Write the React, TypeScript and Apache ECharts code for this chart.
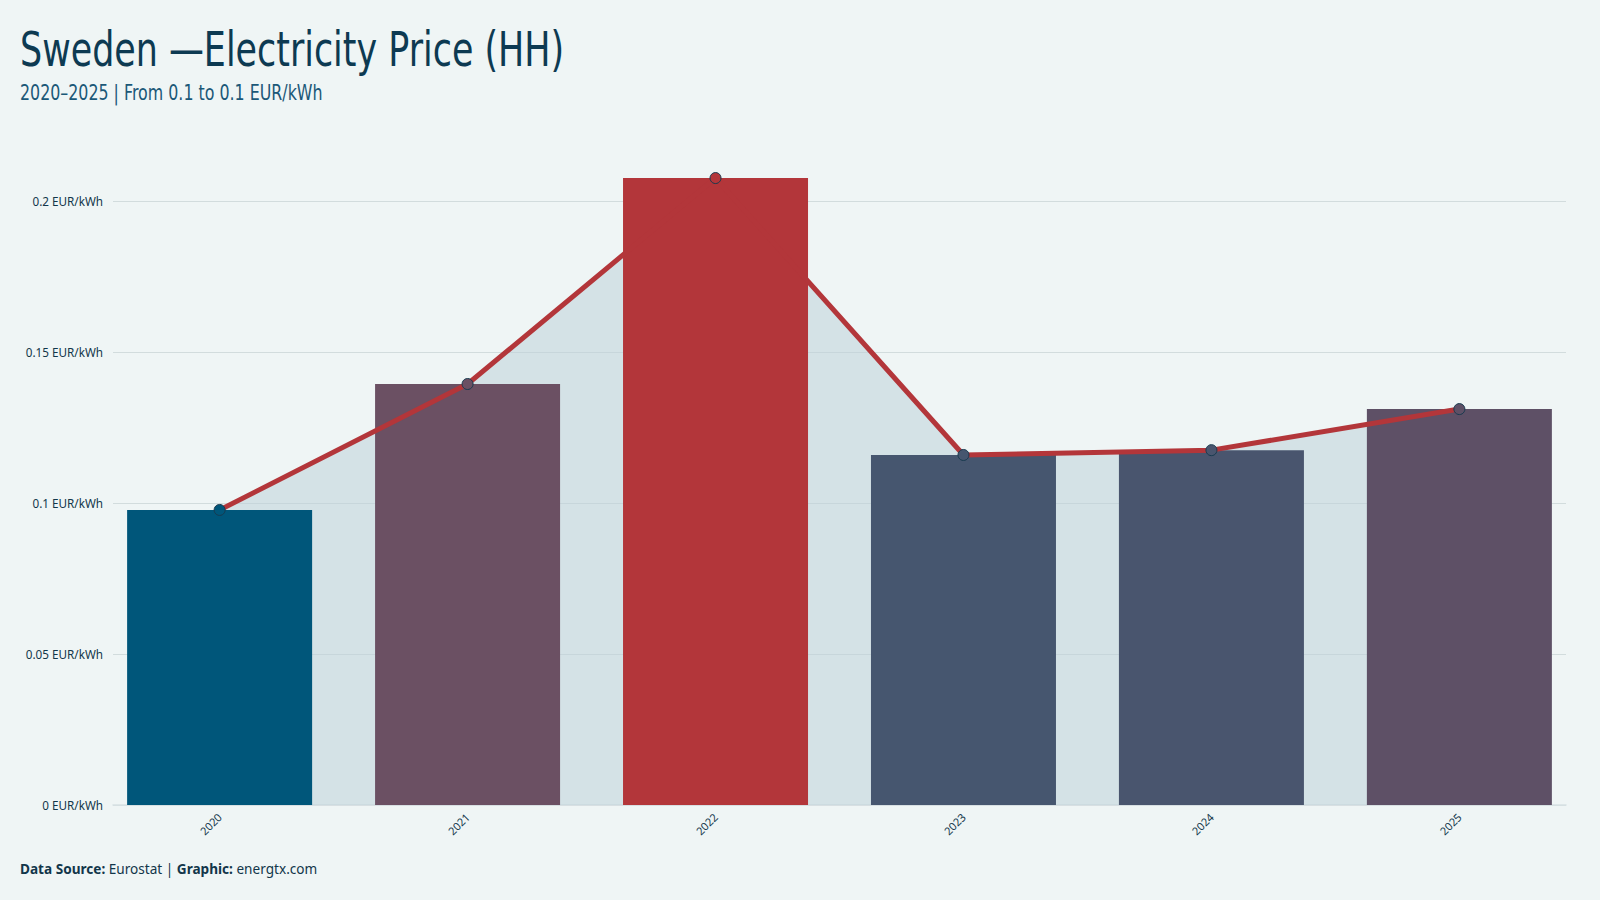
import React, { useEffect, useRef } from "react";
import * as echarts from "echarts";

const years = ["2020", "2021", "2022", "2023", "2024", "2025"];
const prices = [0.0977, 0.1394, 0.2076, 0.1159, 0.1175, 0.1311];
const barColors = ["#00567a", "#6b5063", "#b3363a", "#46566f", "#49556e", "#5e5066"];
const yTickValues = [0, 0.05, 0.1, 0.15, 0.2];
const unit = "EUR/kWh";
const titleText = "Sweden —Electricity Price (HH)";
const subtitleText = "2020–2025 | From 0.1 to 0.1 EUR/kWh";

export default function App() {
  const ref = useRef<HTMLDivElement>(null);
  useEffect(() => {
    if (!ref.current) return;
    const chart = echarts.init(ref.current, null, { renderer: "svg" });
    const xy = prices.map((v, i) => [i, v]);
    chart.setOption({
      animation: false,
      backgroundColor: "#eff5f5",
      grid: { left: 113, right: 34, top: 125.5, bottom: 95, containLabel: false },
      xAxis: {
        type: "value",
        min: -0.43,
        max: 5.43,
        splitLine: { show: false },
        axisTick: { show: false },
        axisLine: { show: true, lineStyle: { color: "#d8e1e3", width: 1.5 } },
        axisLabel: {
          customValues: years.map((_, i) => i),
          formatter: (v: number) => years[Math.round(v)] ?? "",
          rotate: 45,
          margin: 10,
          fontSize: 11,
          color: "#12364a",
          fontFamily: "'Noto Sans', sans-serif",
        },
      },
      yAxis: {
        type: "value",
        min: 0,
        max: 0.225,
        interval: 0.05,
        axisLine: { show: false },
        axisTick: { show: false },
        splitLine: { show: true, showMaxLine: false, lineStyle: { color: "#d2dcdd", width: 1 } },
        axisLabel: {
          customValues: yTickValues,
          margin: 10,
          fontSize: 11.7,
          color: "#12364a",
          fontFamily: "'Noto Sans', sans-serif",
          formatter: (v: number) => `${+v.toFixed(3)} ${unit}`,
        },
      },
      series: [
        {
          type: "line",
          data: xy,
          showSymbol: false,
          lineStyle: { width: 0 },
          areaStyle: { color: "#bed1d8", opacity: 0.55 },
          z: 1,
          silent: true,
        },
        {
          type: "bar",
          data: xy.map((d, i) => ({ value: d, itemStyle: { color: barColors[i] } })),
          barWidth: 185,
          z: 2,
        },
        {
          type: "line",
          data: xy.map((d, i) => ({
            value: d,
            itemStyle: { color: barColors[i], borderColor: "#183a4f", borderWidth: 1 },
          })),
          symbol: "circle",
          symbolSize: 11,
          showSymbol: true,
          lineStyle: { color: "#b3363a", width: 5 },
          z: 3,
        },
      ],
      graphic: [
        {
          type: "text",
          x: 20,
          y: 25,
          scaleX: 0.727,
          style: {
            text: titleText,
            fontSize: 48,
            fontFamily: "'DejaVu Sans', sans-serif",
            fill: "#0d3a52",
          },
        },
        {
          type: "text",
          x: 20,
          y: 82,
          scaleX: 0.755,
          style: {
            text: subtitleText,
            fontSize: 21,
            fontFamily: "'DejaVu Sans', sans-serif",
            fill: "#1b5878",
          },
        },
        {
          type: "text",
          x: 20,
          y: 861,
          style: {
            text: "{b|Data Source:} Eurostat | {b|Graphic:} energtx.com",
            fontSize: 13.6,
            fontFamily: "'Noto Sans', sans-serif",
            fill: "#12364a",
            rich: {
              b: { fontWeight: "bold", fontSize: 13.6, fontFamily: "'Noto Sans', sans-serif", fill: "#12364a" },
            },
          },
        },
      ],
    });
    return () => chart.dispose();
  }, []);
  return (
    <div
      ref={ref}
      style={{ position: "fixed", left: 0, top: 0, width: 1600, height: 900 }}
    />
  );
}
